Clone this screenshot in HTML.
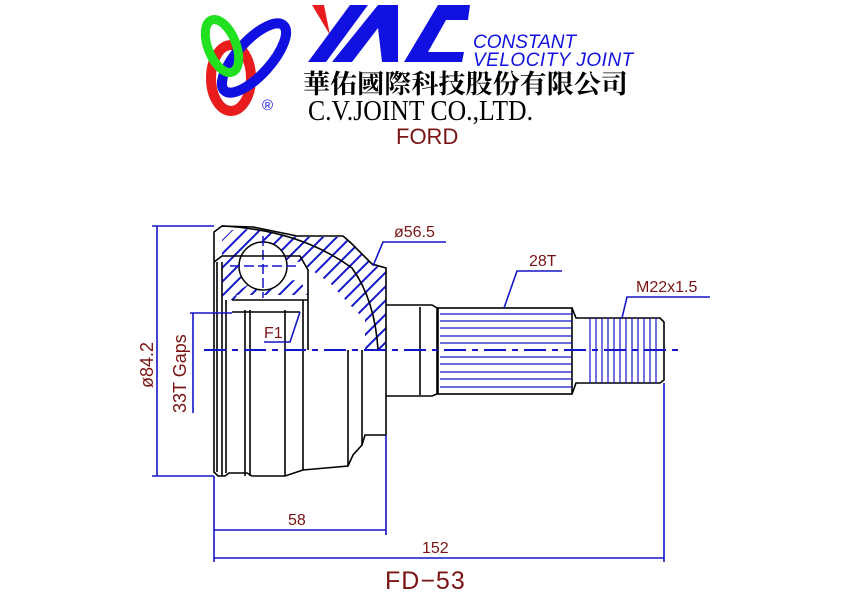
<!DOCTYPE html>
<html><head><meta charset="utf-8"><style>
html,body{margin:0;padding:0;background:#fff;width:842px;height:596px;overflow:hidden}
svg{display:block}
.dr{fill:#7a1414;font-family:"Liberation Sans",sans-serif}
</style></head><body>
<svg width="842" height="596" viewBox="0 0 842 596" xmlns="http://www.w3.org/2000/svg">
<defs>
<pattern id="h" width="14" height="14" patternUnits="userSpaceOnUse">
<path d="M-2,2 L2,-2 M0,14 L14,0 M12,16 L16,12" stroke="#1414c8" stroke-width="2"/>
</pattern>
</defs>
<!-- logo rings -->
<ellipse cx="231" cy="78" rx="20" ry="33" fill="none" stroke="#e81c1c" stroke-width="10"/>
<ellipse cx="254" cy="58" rx="17" ry="44" transform="rotate(42 254 58)" fill="none" stroke="#1010e0" stroke-width="10"/>
<ellipse cx="222" cy="46" rx="14" ry="28" transform="rotate(-22 222 46)" fill="none" stroke="#20e020" stroke-width="9"/>
<text x="262" y="110" font-family="Liberation Sans,sans-serif" font-size="15" fill="#1010e0">®</text>
<!-- YAC -->
<polygon points="312,5 324,5 330,35" fill="#e81c1c"/>
<polygon points="308,62 326,62 368,5 350,5" fill="#1010e0"/>
<polygon points="332,62 352,62 378,28 382,62 398,62 398,5 378,5" fill="#1010e0"/>
<polygon points="404,62 462,62 464,52 428,52 446,20 468,20 470,5 438,5" fill="#1010e0"/>
<text x="473" y="48" font-family="Liberation Sans,sans-serif" font-style="italic" font-size="19" fill="#1010e0">CONSTANT</text>
<text x="473" y="66" font-family="Liberation Sans,sans-serif" font-style="italic" font-size="19" fill="#1010e0" letter-spacing="0.5">VELOCITY  JOINT</text>
<text x="303" y="93" font-family="'Noto Serif CJK SC','Noto Sans CJK SC',serif" font-weight="bold" font-size="26" fill="#000" textLength="325" lengthAdjust="spacingAndGlyphs">華佑國際科技股份有限公司</text>
<text x="308" y="120" font-family="Liberation Serif,serif" font-size="28" fill="#000" textLength="225" lengthAdjust="spacingAndGlyphs">C.V.JOINT CO.,LTD.</text>
<text x="396" y="144" class="dr" font-size="22">FORD</text>

<!-- hatched upper body -->
<path d="M222,262 L222,240 L232,230 L253,229 L297,237 L343,237 L353,244 L374,266 L386,268 L386,350 L365,350 L365,320 L350,305 L330,283 L300,262 L275,258 L250,262 L235,300 L222,300 Z" fill="url(#h)" stroke="none"/>
<path d="M232,295 L252,282 L300,280 L308,295 Z" fill="url(#h)"/>
<circle cx="263" cy="266" r="24" fill="#fff" stroke="#000" stroke-width="1.5"/>
<line x1="263" y1="236" x2="263" y2="298" stroke="#1414c8" stroke-width="1.5" stroke-dasharray="10,4"/>
<line x1="230" y1="266" x2="298" y2="266" stroke="#1414c8" stroke-width="1.5" stroke-dasharray="10,4"/>

<!-- body outline -->
<g fill="none" stroke="#000" stroke-width="1.6">
<path d="M214,232 L222,226 L253,227 L297,236 L343,236 L351,243 L372,264 L386,268 L386,435 L365,435 L362,445 L353,455 L348,466 L303,470 L285,476 L252,476 L247,473 L229,473 L225,476 L218,476 L214,472 Z"/>
<path d="M222,226 Q300,230 352,268 Q375,300 378,350"/>
<line x1="217" y1="262" x2="217" y2="472"/>
<line x1="222" y1="262" x2="222" y2="476"/>
<line x1="226" y1="300" x2="226" y2="473"/>
<line x1="245" y1="310" x2="245" y2="476"/>
<line x1="250" y1="310" x2="250" y2="476"/>
<line x1="285" y1="310" x2="285" y2="476"/>
<line x1="303" y1="300" x2="303" y2="470"/>
<line x1="348" y1="350" x2="348" y2="466"/>
<line x1="362" y1="350" x2="362" y2="445"/>
<path d="M214,262 L222,256 L300,256 L308,270 L308,350"/>
<line x1="232" y1="300" x2="308" y2="300"/>
<line x1="232" y1="312" x2="300" y2="312"/>
<path d="M386,305 L395,305 L432,305 L437,308 L437,394 L432,396 L386,396"/>
<line x1="420" y1="307" x2="420" y2="395"/>
<rect x="438" y="308" width="134" height="86"/>
<path d="M572,308 L576,318 L583,318 M572,394 L576,383 L583,383"/>
<path d="M583,318 L660,318 L664,322 L664,380 L660,383 L583,383"/>
</g>
<g stroke="#1414c8" stroke-width="1.2">
<line x1="440" y1="314" x2="572" y2="314"/><line x1="440" y1="321" x2="572" y2="321"/>
<line x1="440" y1="328" x2="572" y2="328"/><line x1="440" y1="336" x2="572" y2="336"/>
<line x1="440" y1="343" x2="572" y2="343"/><line x1="440" y1="357" x2="572" y2="357"/>
<line x1="440" y1="364" x2="572" y2="364"/><line x1="440" y1="372" x2="572" y2="372"/>
<line x1="440" y1="379" x2="572" y2="379"/><line x1="440" y1="387" x2="572" y2="387"/>
<line x1="590" y1="318" x2="590" y2="383"/><line x1="596" y1="318" x2="596" y2="383"/>
<line x1="602" y1="318" x2="602" y2="383"/><line x1="608" y1="318" x2="608" y2="383"/>
<line x1="614" y1="318" x2="614" y2="383"/><line x1="620" y1="318" x2="620" y2="383"/>
<line x1="626" y1="318" x2="626" y2="383"/><line x1="632" y1="318" x2="632" y2="383"/>
<line x1="638" y1="318" x2="638" y2="383"/><line x1="644" y1="318" x2="644" y2="383"/>
<line x1="650" y1="318" x2="650" y2="383"/><line x1="656" y1="318" x2="656" y2="383"/>
</g>
<line x1="204" y1="350" x2="678" y2="350" stroke="#1414c8" stroke-width="2" stroke-dasharray="22,6,6,6"/>

<g stroke="#1414c8" stroke-width="1.6" fill="none">
<line x1="152" y1="226" x2="214" y2="226"/><line x1="152" y1="476" x2="214" y2="476"/>
<line x1="157" y1="226" x2="157" y2="476"/>
<line x1="190" y1="313" x2="232" y2="313"/><line x1="193" y1="313" x2="193" y2="413"/>
<line x1="214" y1="476" x2="214" y2="562"/><line x1="386" y1="435" x2="386" y2="535"/>
<line x1="214" y1="530" x2="386" y2="530"/>
<line x1="664" y1="383" x2="664" y2="562"/>
<line x1="214" y1="558" x2="664" y2="558"/>
<polyline points="373,266 383,242 446,242"/>
<polyline points="504,308 517,271 562,271"/>
<polyline points="622,318 627,297 710,297"/>
<polyline points="264,342 290,342 300,312"/>
</g>
<text class="dr" font-size="18" transform="translate(153,388) rotate(-90)">ø84.2</text>
<text class="dr" font-size="18" transform="translate(186,413) rotate(-90)">33T Gaps</text>
<text x="264" y="338" class="dr" font-size="16">F1</text>
<text x="394" y="237" class="dr" font-size="16">ø56.5</text>
<text x="529" y="266" class="dr" font-size="16">28T</text>
<text x="636" y="292" class="dr" font-size="16">M22x1.5</text>
<text x="288" y="525" class="dr" font-size="16">58</text>
<text x="422" y="553" class="dr" font-size="16">152</text>
<text x="385" y="589" class="dr" font-size="25" letter-spacing="1">FD−53</text>
</svg>
</body></html>
